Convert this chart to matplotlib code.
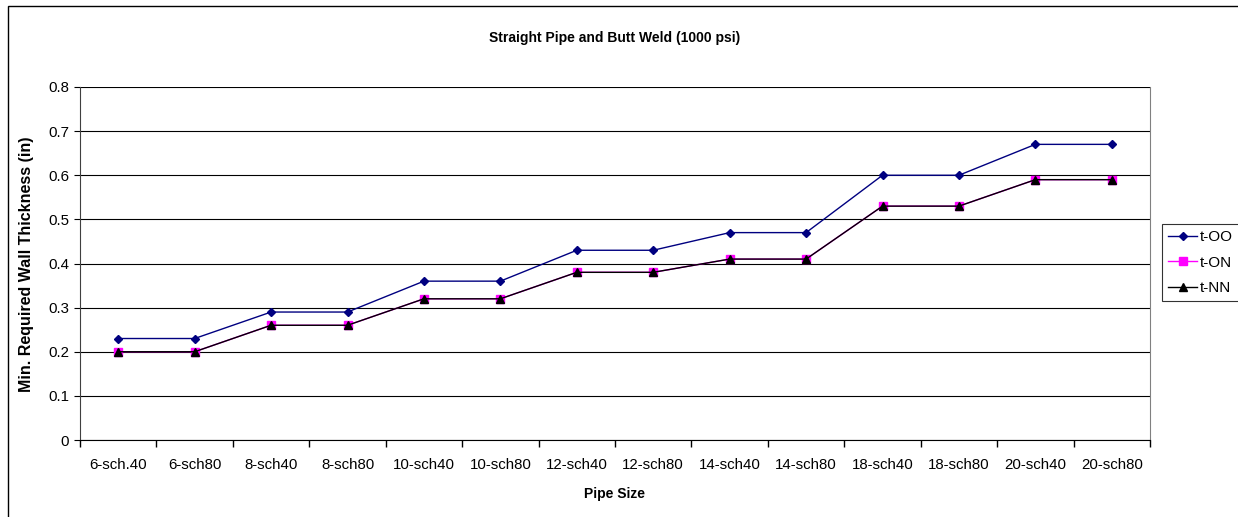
import matplotlib.pyplot as plt
from matplotlib.patches import Rectangle
import numpy as np

plt.rcParams["font.family"] = ["Liberation Sans", "DejaVu Sans"]

# Data
pipe_sizes = ["6-sch.40", "6-sch80", "8-sch40", "8-sch80", "10-sch40", "10-sch80", "12-sch40",
              "12-sch80", "14-sch40", "14-sch80", "18-sch40", "18-sch80", "20-sch40", "20-sch80"]
t_oo = [0.23, 0.23, 0.29, 0.29, 0.36, 0.36, 0.43, 0.43, 0.47, 0.47, 0.60, 0.60, 0.67, 0.67]
t_on = [0.20, 0.20, 0.26, 0.26, 0.32, 0.32, 0.38, 0.38, 0.41, 0.41, 0.53, 0.53, 0.59, 0.59]
t_nn = [0.20, 0.20, 0.26, 0.26, 0.32, 0.32, 0.38, 0.38, 0.41, 0.41, 0.53, 0.53, 0.59, 0.59]

W, H = 1238, 517
fig = plt.figure(figsize=(W / 100, H / 100), dpi=100)

# outer chart border (cut off at right/bottom like the source)
fig.patches.append(Rectangle((8 / W, -0.1), 1.2, 1 - 6 / H + 0.1, transform=fig.transFigure,
                             fill=False, edgecolor="black", linewidth=1.0))

ax = fig.add_axes([80 / W, 1 - 440 / H, (1150 - 80) / W, (440 - 87) / H])
x = np.arange(len(pipe_sizes))

ax.plot(x, t_oo, color="#000080", marker="D", markersize=4.5, linewidth=1.0, label="t-OO", zorder=3)
ax.plot(x, t_on, color="#FF00FF", marker="s", markersize=6, linewidth=1.0, label="t-ON", zorder=4)
ax.plot(x, t_nn, color="black", marker="^", markersize=6, linewidth=1.0, label="t-NN", zorder=5)

ax.set_xlim(-0.5, len(pipe_sizes) - 0.5)
ax.set_ylim(0, 0.8)
ax.set_yticks(np.arange(0, 0.81, 0.1))
ax.set_yticklabels(["0", "0.1", "0.2", "0.3", "0.4", "0.5", "0.6", "0.7", "0.8"])
ax.yaxis.grid(True, color="black", linewidth=0.8)
ax.set_axisbelow(True)

# ticks between categories, labels at centres
ax.set_xticks(np.arange(-0.5, len(pipe_sizes), 1.0))
ax.set_xticklabels([])
ax.set_xticks(x, minor=True)
ax.set_xticklabels(pipe_sizes, minor=True)
ax.tick_params(axis="x", which="minor", length=0, pad=13, labelsize=10.8)
ax.tick_params(axis="x", which="major", length=5, direction="out", width=1.0)
ax.tick_params(axis="y", length=4, direction="out", labelsize=10.8, pad=4)

ax.spines["left"].set_color("#404040")
ax.spines["bottom"].set_color("black")
ax.spines["right"].set_color("#808080")
ax.spines["top"].set_visible(False)

ax.set_xlabel("Pipe Size", fontsize=10, fontweight="bold", labelpad=11)
ax.set_ylabel("Min. Required Wall Thickness (in)", fontsize=11.5, fontweight="bold")
ax.yaxis.set_label_coords((34 - 80) / 1070, (440 - 264) / 353)
fig.text(0.5 * (80 + 1150) / W, 1 - 38 / H, "Straight Pipe and Butt Weld (1000 psi)",
         ha="center", va="center", fontsize=10, fontweight="bold")

leg = ax.legend(loc="upper left", bbox_to_anchor=(1162 / W, 1 - 224 / H),
                bbox_transform=fig.transFigure, fontsize=11, frameon=True, fancybox=False,
                edgecolor="black", borderpad=0.4, handlelength=1.9, labelspacing=0.75,
                handletextpad=0.2, borderaxespad=0, markerscale=0.9)
leg.get_frame().set_linewidth(0.8)

fig.savefig("out.png", dpi=100)
